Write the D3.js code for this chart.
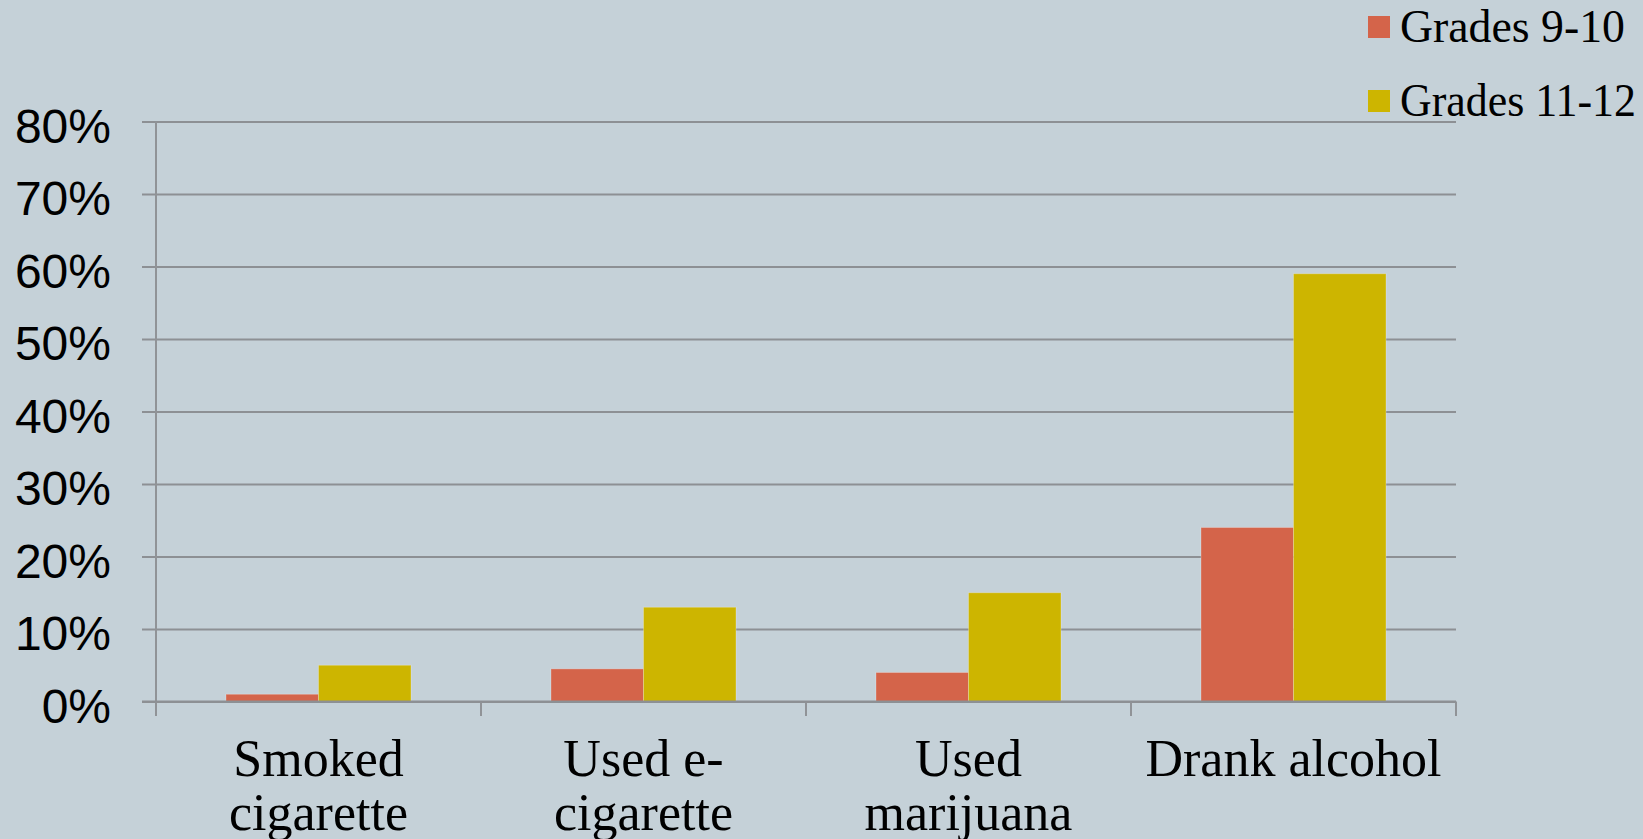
<!DOCTYPE html>
<html>
<head>
<meta charset="utf-8">
<script src="https://cdn.jsdelivr.net/npm/d3@7"></script>
<style>
    html, body { margin: 0; padding: 0; background: #c5d1d8; }
    svg { display: block; }
    .ylab { font-family: "Liberation Sans", Arial, sans-serif; font-size: 48px; fill: #000; }
    .xlab { font-family: Georgia, "Liberation Serif", serif; font-size: 52px; fill: #000; }
    .leg { font-family: Georgia, "Liberation Serif", serif; font-size: 46px; fill: #000; }
</style>
</head>
<body>
<svg width="1643" height="839"></svg>
<script>
const categories = ["Smoked cigarette", "Used e-cigarette", "Used marijuana", "Drank alcohol"];
// label lines as they wrap in the original
const categoryLines = [["Smoked", "cigarette"], ["Used e-", "cigarette"], ["Used", "marijuana"], ["Drank alcohol"]];
const seriesNames = ["Grades 9-10", "Grades 11-12"];
const grades910 = [0.01, 0.045, 0.04, 0.24];
const grades1112 = [0.05, 0.13, 0.15, 0.59];
const yTicks = [0, 0.1, 0.2, 0.3, 0.4, 0.5, 0.6, 0.7, 0.8];
const colors = ["#d4644a", "#cdb500"];

const svg = d3.select("svg");
const width = +svg.attr("width");
const height = +svg.attr("height");

svg.append("rect")
    .attr("width", width)
    .attr("height", height)
    .attr("fill", "#c5d1d8");

const plotLeft = 156, plotRight = 1456, plotTop = 121.5, plotBottom = 701.5;

const x = d3.scaleBand()
    .domain(categories)
    .range([plotLeft, plotRight]);

const xs = d3.scaleBand()
    .domain(seriesNames)
    .range([70, x.bandwidth() - 70]);

const y = d3.scaleLinear()
    .domain([0, 0.8])
    .range([plotBottom, plotTop]);

const color = d3.scaleOrdinal(seriesNames, colors);

// gridlines + y labels
const yAxis = svg.append("g")
    .attr("transform", `translate(${plotRight},0)`)
    .call(d3.axisLeft(y)
        .tickValues(yTicks)
        .tickSize(plotRight - 142)
        .tickPadding(31)
        .tickFormat(d3.format(".0%")));

yAxis.attr("font-size", null).attr("font-family", null);
yAxis.select(".domain").remove();
yAxis.selectAll(".tick line")
    .attr("stroke", "#8d9094")
    .attr("stroke-width", 2.2);
yAxis.selectAll(".tick text")
    .attr("class", "ylab")
    .attr("dy", null)
    .attr("y", 20.5);

// vertical axis
svg.append("line")
    .attr("x1", plotLeft).attr("x2", plotLeft)
    .attr("y1", plotTop).attr("y2", 716)
    .attr("stroke", "#909397")
    .attr("stroke-width", 2);

// category separator ticks
const tickXs = categories.map(c => x(c)).concat([x(categories[categories.length - 1]) + x.bandwidth()]);
svg.append("g")
    .selectAll("line")
    .data(tickXs)
    .enter().append("line")
    .attr("x1", d => d).attr("x2", d => d)
    .attr("y1", plotBottom).attr("y2", 716)
    .attr("stroke", "#909397")
    .attr("stroke-width", 2);

// bars
const rows = categories.map((c, i) => ({
    cat: c,
    values: [
        { key: seriesNames[0], value: grades910[i] },
        { key: seriesNames[1], value: grades1112[i] }
    ]
}));

const group = svg.append("g")
    .selectAll("g")
    .data(rows)
    .enter().append("g")
    .attr("transform", d => `translate(${x(d.cat)},0)`);

group.selectAll("rect")
    .data(d => d.values)
    .enter().append("rect")
    .attr("x", d => xs(d.key))
    .attr("y", d => y(d.value))
    .attr("width", xs.bandwidth())
    .attr("height", d => y(0) - y(d.value))
    .attr("fill", d => color(d.key))
    .attr("stroke", "rgba(255,255,255,0.25)")
    .attr("stroke-width", 1);

// redraw baseline on top of bars
svg.append("line")
    .attr("x1", 142).attr("x2", plotRight)
    .attr("y1", y(0)).attr("y2", y(0))
    .attr("stroke", "#8d9094")
    .attr("stroke-width", 2.2);

// category labels
const xl = svg.append("g")
    .selectAll("text")
    .data(categories)
    .enter().append("text")
    .attr("class", "xlab")
    .attr("text-anchor", "middle")
    .attr("x", d => x(d) + x.bandwidth() / 2)
    .attr("y", 776);

xl.selectAll("tspan")
    .data((d, i) => categoryLines[i])
    .enter().append("tspan")
    .attr("x", function () { return d3.select(this.parentNode).attr("x"); })
    .attr("dy", (d, i) => i === 0 ? 0 : 54)
    .text(d => d);

// legend
const legend = svg.append("g")
    .selectAll("g")
    .data(seriesNames)
    .enter().append("g")
    .attr("transform", (d, i) => `translate(1368,${16 + i * 74})`);

legend.append("rect")
    .attr("width", 22)
    .attr("height", 22)
    .attr("fill", d => color(d));

// the original font has narrow old-style digits, so squeeze the longer label
legend.append("text")
    .attr("class", "leg")
    .attr("x", 32)
    .attr("y", 26)
    .attr("textLength", (d, i) => i === 0 ? 225 : 236)
    .attr("lengthAdjust", "spacingAndGlyphs")
    .text(d => d);
</script>
</body>
</html>
